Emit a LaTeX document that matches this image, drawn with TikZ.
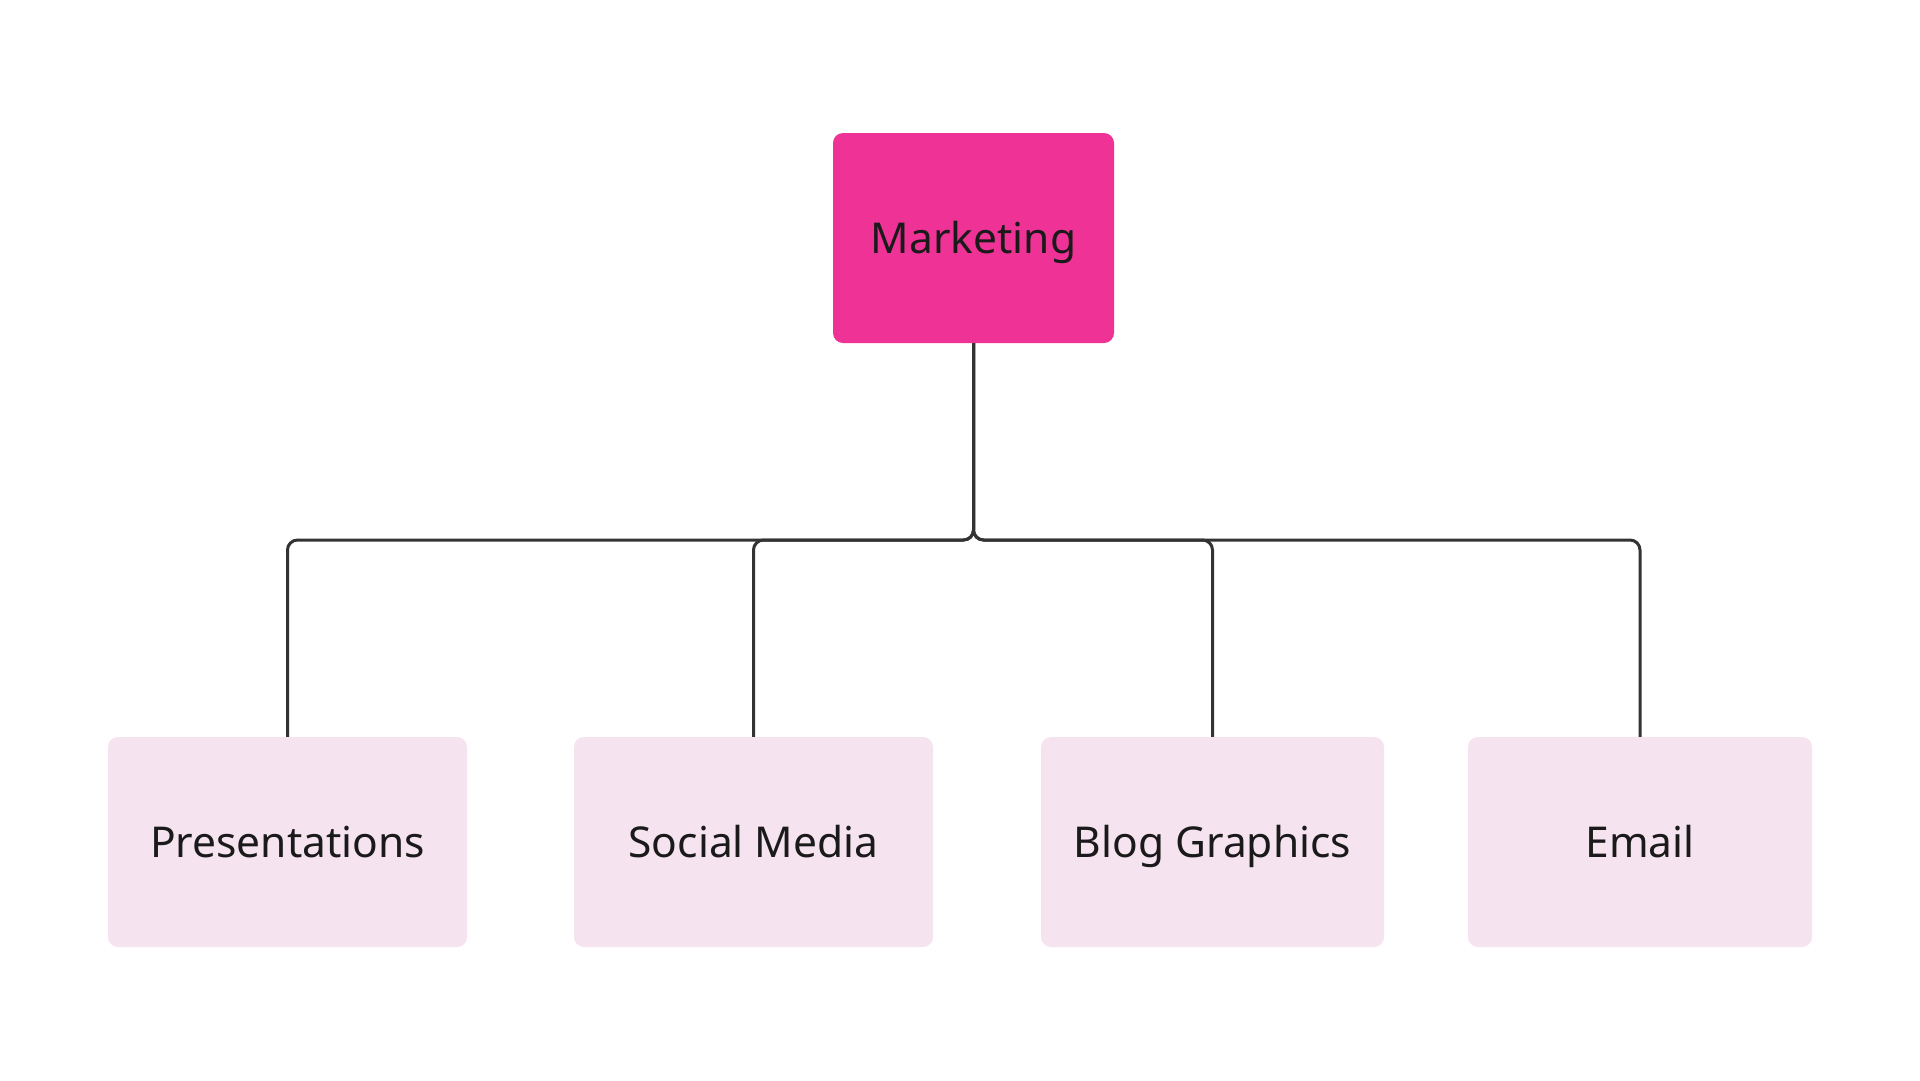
\documentclass[tikz,border=0pt]{standalone}
\usepackage{fontspec}
\setmainfont{Noto Sans}
\definecolor{rootpink}{RGB}{239,50,150}
\definecolor{leafpink}{RGB}{246,227,240}
\definecolor{txt}{RGB}{26,26,26}
\definecolor{wire}{RGB}{51,51,51}
\begin{document}
\begin{tikzpicture}[x=1pt,y=-1pt,
  box/.style={rectangle,rounded corners=10pt,inner sep=0pt,text=txt,font=\fontsize{42.5}{50}\selectfont,minimum height=210pt,text height=30.3pt,text depth=0pt},
  root/.style={box,fill=rootpink,minimum width=281pt},
  leaf/.style={box,fill=leafpink},
  wire/.style={draw=wire,line width=3pt,rounded corners=10pt}]
\useasboundingbox (0,0) rectangle (1920,1080);
\fill[white] (0,0) rectangle (1920,1080);
\node[root] (m) at (973.5,238) {Marketing};
\node[leaf,minimum width=359pt] (p) at (287.5,842) {Presentations};
\node[leaf,minimum width=359pt] (s) at (753.5,842) {Social Media};
\node[leaf,minimum width=343pt] (b) at (1212.5,842) {Blog Graphics};
\node[leaf,minimum width=344pt] (e) at (1640,842) {Email};
\coordinate (j) at (973.5,540);
\foreach \c in {p,s,b,e}{
  \draw[wire] (m.south) -- (j) -| (\c.north);
}
\end{tikzpicture}
\end{document}
